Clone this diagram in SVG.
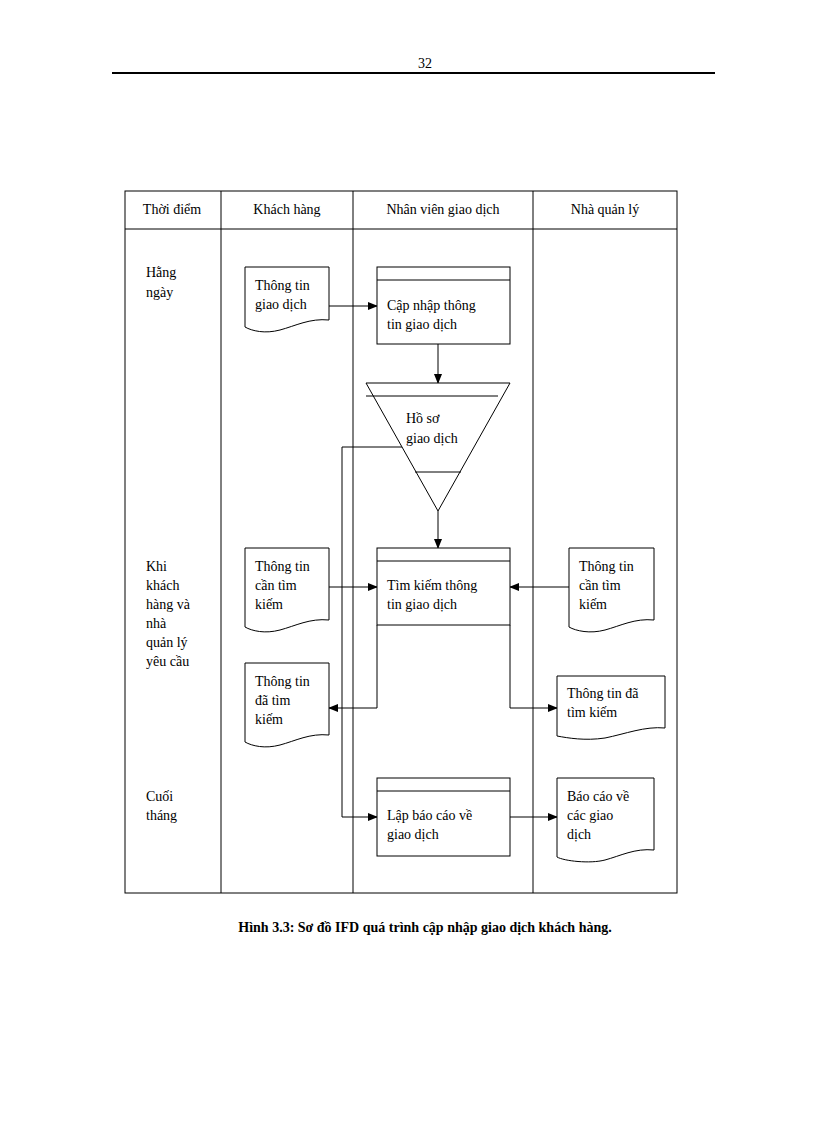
<svg xmlns="http://www.w3.org/2000/svg" width="816" height="1123" viewBox="0 0 816 1123">
<style>
text{font-family:"Liberation Serif",serif;font-size:14px;fill:#000}
.s{fill:#fff;stroke:#000;stroke-width:1}
.l{fill:none;stroke:#000;stroke-width:1}
.c{text-anchor:middle}
</style>
<defs><marker id="a" markerWidth="10" markerHeight="8" refX="9" refY="4" orient="auto" markerUnits="userSpaceOnUse"><path d="M0,0L10,4L0,8Z"/></marker></defs>
<rect width="816" height="1123" fill="#fff"/>
<text x="425" y="68" class="c">32</text>
<line x1="112" y1="73" x2="715" y2="73" stroke="#000" stroke-width="2"/>
<g id="table">
<rect x="125" y="191" width="552" height="702" class="l"/>
<line x1="125" y1="229" x2="677" y2="229" class="l"/>
<line x1="221" y1="191" x2="221" y2="893" class="l"/>
<line x1="353" y1="191" x2="353" y2="893" class="l"/>
<line x1="533" y1="191" x2="533" y2="893" class="l"/>
<text x="172" y="214" class="c">Thời điểm</text>
<text x="287" y="214" class="c">Khách hàng</text>
<text x="443" y="214" class="c">Nhân viên giao dịch</text>
<text x="605" y="214" class="c">Nhà quản lý</text>
<text x="146" y="277">Hằng</text><text x="146" y="297">ngày</text>
<text x="146" y="571">Khi</text><text x="146" y="590">khách</text><text x="146" y="609">hàng và</text><text x="146" y="628">nhà</text><text x="146" y="647">quản lý</text><text x="146" y="666">yêu cầu</text>
<text x="146" y="801">Cuối</text><text x="146" y="820">tháng</text>
</g>
<g id="connectors" class="l">
<path d="M329,306H377" marker-end="url(#a)"/>
<path d="M438,344V383" marker-end="url(#a)"/>
<path d="M438,511V548" marker-end="url(#a)"/>
<path d="M329,587H377" marker-end="url(#a)"/>
<path d="M569,587H510" marker-end="url(#a)"/>
<path d="M377,625V708H329" marker-end="url(#a)"/>
<path d="M510,625V708H557" marker-end="url(#a)"/>
<path d="M403,447H342V817H377" marker-end="url(#a)"/>
<path d="M510,817H557" marker-end="url(#a)"/>
</g>
<g id="doc1"><path class="s" d="M245,267H329V320C310,318 295,326 280,330C265,334 252,331 245,327Z"/><text x="255" y="290">Thông  tin</text><text x="255" y="309">giao  dịch</text></g>
<g id="proc1"><rect class="s" x="377" y="267" width="133" height="77"/><line class="l" x1="377" y1="280" x2="510" y2="280"/><text x="387" y="310">Cập nhập  thông</text><text x="387" y="329">tin  giao  dịch</text></g>
<g id="store"><path class="s" d="M366,383H510L438,511Z"/><line class="l" x1="366" y1="396" x2="498" y2="396"/><line class="l" x1="415" y1="472" x2="461" y2="472"/><text x="406" y="423">Hồ sơ</text><text x="406" y="443">giao  dịch</text></g>
<g id="doc2"><path class="s" d="M245,548H329V620C310,618 295,626 280,630C265,634 252,631 245,627Z"/><text x="255" y="571">Thông  tin</text><text x="255" y="590">cần tìm</text><text x="255" y="609">kiếm</text></g>
<g id="proc2"><rect class="s" x="377" y="548" width="133" height="77"/><line class="l" x1="377" y1="561" x2="510" y2="561"/><text x="387" y="590">Tìm  kiếm  thông</text><text x="387" y="609">tin  giao  dịch</text></g>
<g id="doc3"><path class="s" d="M569,548H654V620C635,618 620,626 605,630C590,634 576,631 569,627Z"/><text x="579" y="571">Thông  tin</text><text x="579" y="590">cần tìm</text><text x="579" y="609">kiếm</text></g>
<g id="doc4"><path class="s" d="M245,663H329V735C310,733 295,741 280,745C265,749 252,746 245,742Z"/><text x="255" y="686">Thông  tin</text><text x="255" y="705">đã tìm</text><text x="255" y="724">kiếm</text></g>
<g id="doc5"><path class="s" d="M557,676H665V728C645,726 625,734 605,738C585,741 568,738 557,736Z"/><text x="567" y="698">Thông  tin  đã</text><text x="567" y="717">tìm  kiếm</text></g>
<g id="proc3"><rect class="s" x="377" y="778" width="133" height="78"/><line class="l" x1="377" y1="791" x2="510" y2="791"/><text x="387" y="820">Lập báo cáo về</text><text x="387" y="839">giao  dịch</text></g>
<g id="doc6"><path class="s" d="M557,778H654V850C635,848 620,856 605,860C590,864 564,861 557,857Z"/><text x="567" y="801">Báo cáo về</text><text x="567" y="820">các giao</text><text x="567" y="839">dịch</text></g>
<text x="425" y="932" class="c" font-weight="bold">Hình 3.3: Sơ đồ IFD quá trình  cập nhập  giao dịch  khách hàng.</text>
</svg>
